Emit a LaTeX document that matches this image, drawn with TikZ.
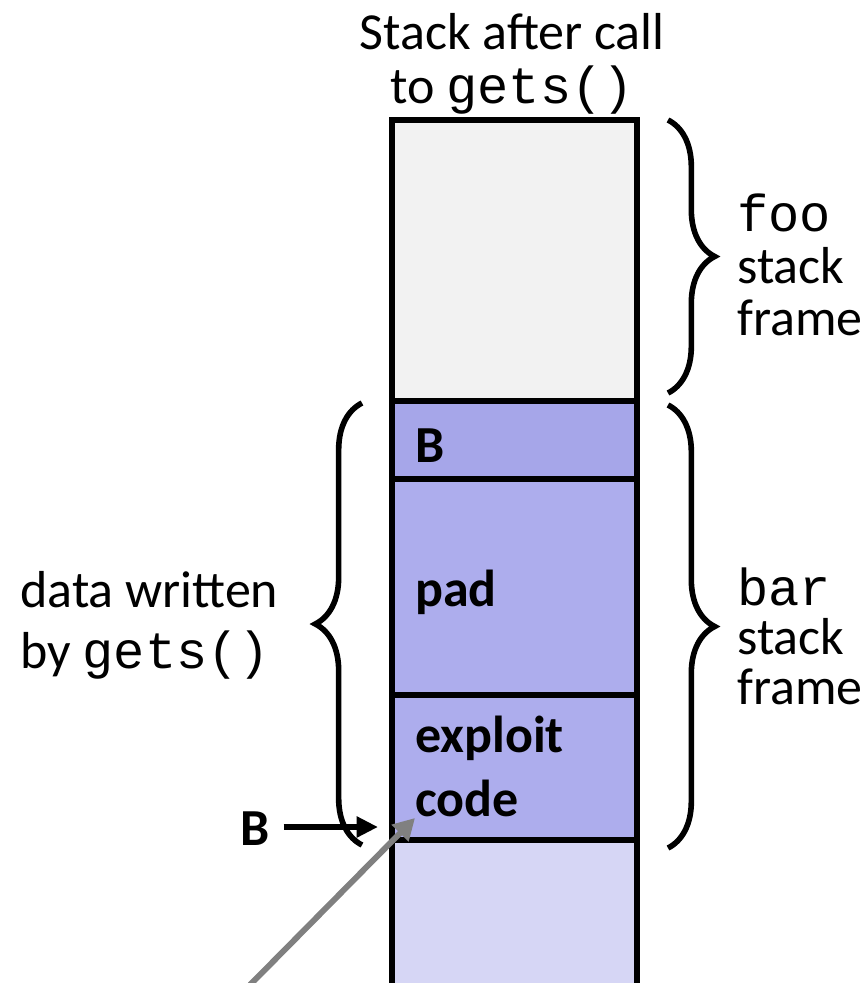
\documentclass[tikz,border=0pt]{standalone}
\usepackage{fontspec}
\setmainfont{Carlito}
\setmonofont{Liberation Mono}
\usetikzlibrary{arrows.meta,decorations.pathreplacing}

\definecolor{fooclr}{RGB}{242,242,242}
\definecolor{retclr}{RGB}{166,166,233}
\definecolor{bufclr}{RGB}{173,173,237}
\definecolor{belowclr}{RGB}{214,214,245}
\definecolor{ptrgray}{RGB}{128,128,128}

\tikzset{
  cellbox/.style={draw=black, line width=4.4pt},
  txt/.style={inner sep=0pt, font=\fontsize{39}{42}\selectfont},
  lbl/.style={txt, anchor=base west},
  ttl/.style={txt, anchor=base},
  framebrace/.style={decorate, decoration={brace, amplitude=35pt}, line width=4.2pt},
}

\begin{document}
\begin{tikzpicture}[x=0.75pt,y=-0.75pt]
\useasboundingbox (0,0) rectangle (865,983);
% title
\node[ttl] (title1) at (512,49) {Stack after call};
\node[ttl] (title2) at (512,103) {to \texttt{gets()}};
% stack cells
\draw[cellbox, fill=fooclr] (392,120) rectangle (637,401);
\draw[cellbox, fill=retclr] (392,401) rectangle (637,479);
\draw[cellbox, fill=bufclr] (392,479) rectangle (637,695);
\draw[cellbox, fill=bufclr] (392,695) rectangle (637,840);
\draw[cellbox, fill=belowclr] (392,840) rectangle (637,1010);
\node[lbl] (retaddr) at (415,462) {\bfseries B};
\node[lbl] (pad) at (415,606) {\bfseries pad};
\node[lbl] (exploit1) at (415,752) {\bfseries exploit};
\node[lbl] (exploit2) at (415,816) {\bfseries code};
% braces
\draw[framebrace] (668,120) -- (668,393);
\draw[framebrace] (668,405) -- (668,848);
\draw[framebrace] (362,845) -- (362,403);
\node[lbl] (foo1) at (737,231) {\texttt{foo}};
\node[lbl] (foo2) at (737,283) {stack};
\node[lbl] (foo3) at (737,335) {frame};
\node[lbl] (bar1) at (737,605) {\texttt{bar}};
\node[lbl] (bar2) at (737,654) {stack};
\node[lbl] (bar3) at (737,704) {frame};
\node[lbl] (data1) at (20,607) {data written};
\node[lbl] (data2) at (20,668) {by \texttt{gets()}};
% pointers
\node[lbl] (bptr) at (240,845) {\bfseries B};
\coordinate (bptrend) at (378,827);
\draw[line width=4.4pt, -{Triangle[length=16pt,width=15pt]}] (bptr.east |- bptrend) ++(14,0) -- (bptrend);
\coordinate (jmpfrom) at (240,995);
\coordinate (jmpto) at (415,818);
\draw[ptrgray, line width=4.4pt, -{Triangle[length=16pt,width=17pt]}] (jmpfrom) -- (jmpto);
\end{tikzpicture}
\end{document}
